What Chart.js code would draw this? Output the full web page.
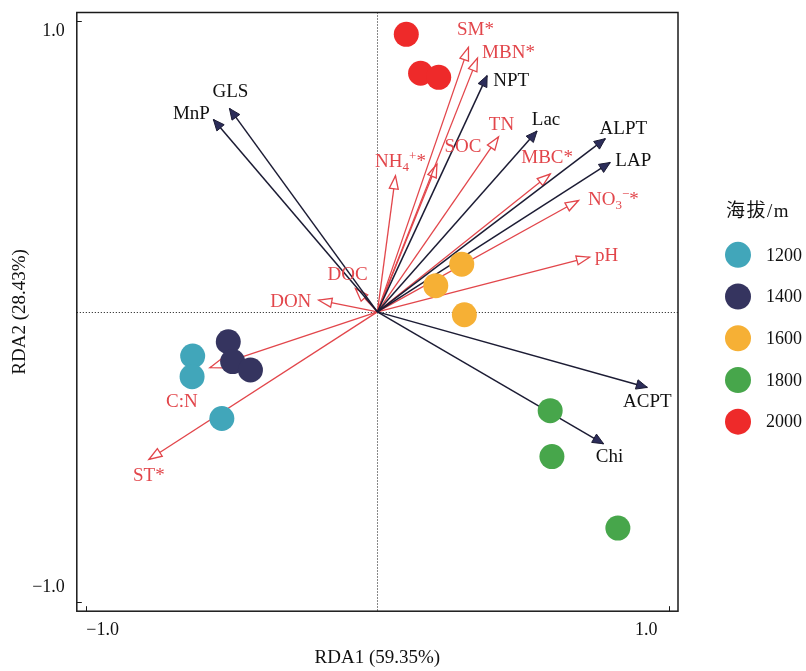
<!DOCTYPE html>
<html>
<head>
<meta charset="utf-8">
<script src="https://cdn.jsdelivr.net/npm/chart.js@4.4.0/dist/chart.umd.min.js"></script>
<style>
html,body{margin:0;padding:0;background:#fff}
#wrap{width:806px;height:671px}
</style>
</head>
<body>
<div id="wrap"><canvas id="rda" width="806" height="671"></canvas></div>
<script>
// --- dados: scores das amostras (RDA1, RDA2) por altitude ---
const elevations = ['1200', '1400', '1600', '1800', '2000'];
const elevColors = ['#41A6BA', '#35345F', '#F6B035', '#47A64B', '#EE2A2A'];
const site1200 = [[-0.633, -0.152], [-0.635, -0.223], [-0.533, -0.367]];
const site1400 = [[-0.511, -0.103], [-0.496, -0.171], [-0.435, -0.200]];
const site1600 = [[0.289, 0.164], [0.200, 0.090], [0.298, -0.010]];
const site1800 = [[0.592, -0.340], [0.598, -0.498], [0.824, -0.744]];
const site2000 = [[0.099, 0.955], [0.148, 0.821], [0.210, 0.807]];
const siteScores = [site1200, site1400, site1600, site1800, site2000];

// variáveis ambientais (setas vermelhas, ponta aberta)
const envNames = ['SM*', 'MBN*', 'TN', 'SOC', 'NH₄⁺*', 'MBC*', 'NO₃⁻*', 'pH', 'DOC', 'DON', 'C:N', 'ST*'];
const envX = [0.312, 0.343, 0.415, 0.204, 0.062, 0.592, 0.689, 0.727, -0.075, -0.201, -0.574, -0.783];
const envY = [0.910, 0.873, 0.602, 0.508, 0.468, 0.474, 0.383, 0.188, 0.080, 0.040, -0.192, -0.508];

// enzimas (setas escuras, ponta cheia)
const enzNames = ['MnP', 'GLS', 'NPT', 'Lac', 'ALPT', 'LAP', 'ACPT', 'Chi'];
const enzX = [-0.562, -0.507, 0.376, 0.547, 0.781, 0.798, 0.925, 0.775];
const enzY = [0.662, 0.700, 0.813, 0.622, 0.596, 0.514, -0.260, -0.454];

const xTicks = [-1, 1];
const yTicks = [-1, 1];
const xTitle = 'RDA1 (59.35%)';
const yTitle = 'RDA2 (28.43%)';
const legendTitle = '海拔/m';

// --- estilo ---
const SERIF = '"Liberation Serif", "Times New Roman", "Noto Sans CJK SC", serif';
const RED = '#E2464B';
const DARK = '#1C1C34';
const NAVY = '#2C2D5A';
const INK = '#1a1a1a';
// deslocamento dos rótulos (px) em relação à ponta da seta
const envNudge = [[7,-19],[31,-6],[3,-13],[26,-18],[5,-15],[-3,-17],[35,-2],[17,-2],[-8,-15],[-28,1],[-28,33],[0,15]];
const enzNudge = [[-22,-7],[1,-18],[24,4],[9,-12],[18,-11],[23,-3],[0,13],[6,12]];
// rótulos dos ticks deslocados para dentro, como no original (px)
const xTickLabelShift = [17, -23];
const yTickLabelShift = [-15, 10];

function fmtTick(v){ return (v < 0 ? '\u2212' : '') + Math.abs(v).toFixed(1); }

function richParts(s){
	const sub = {'₀':'0','₁':'1','₂':'2','₃':'3','₄':'4','₅':'5','₆':'6','₇':'7','₈':'8','₉':'9'};
	const sup = {'⁺':'+','⁻':'\u2212'};
	const parts = [];
	for (const ch of s){
		let k = 'n', t = ch;
		if (sub[ch]){ k = 'sub'; t = sub[ch]; } else if (sup[ch]){ k = 'sup'; t = sup[ch]; }
		const last = parts[parts.length-1];
		if (last && last.k === k) last.t += t; else parts.push({k, t});
	}
	return parts;
}
function drawRich(ctx, s, cx, cy, size, color){
	const parts = richParts(s);
	const small = Math.round(size*0.68);
	let w = 0;
	for (const p of parts){ ctx.font = (p.k==='n' ? size : small)+'px '+SERIF; p.w = ctx.measureText(p.t).width; w += p.w; }
	let x = cx - w/2;
	const base = cy + size*0.33;
	ctx.textAlign = 'left'; ctx.textBaseline = 'alphabetic'; ctx.fillStyle = color;
	for (const p of parts){
		ctx.font = (p.k==='n' ? size : small)+'px '+SERIF;
		const dy = p.k==='sub' ? size*0.22 : (p.k==='sup' ? -size*0.36 : 0);
		ctx.fillText(p.t, x, base+dy);
		x += p.w;
	}
}
function drawHead(ctx, x0, y0, x1, y1, len, half, fill, stroke, lw){
	const a = Math.atan2(y1-y0, x1-x0);
	const bx = x1 - len*Math.cos(a), by = y1 - len*Math.sin(a);
	const nx = -Math.sin(a)*half, ny = Math.cos(a)*half;
	ctx.beginPath();
	ctx.moveTo(x1, y1); ctx.lineTo(bx+nx, by+ny); ctx.lineTo(bx-nx, by-ny); ctx.closePath();
	ctx.fillStyle = fill; ctx.fill();
	ctx.lineJoin = 'miter'; ctx.lineWidth = lw; ctx.strokeStyle = stroke; ctx.stroke();
}

// --- datasets ---
const datasets = [];
siteScores.forEach((pts, i)=>{
	datasets.push({
		label: elevations[i], isSite: true, order: 0,
		data: pts.map(p=>({x:p[0], y:p[1]})),
		backgroundColor: elevColors[i], borderWidth: 0,
		pointRadius: 12.5, pointHoverRadius: 12.5
	});
});
envNames.forEach((n, i)=>{
	datasets.push({
		type: 'line', label: n, arrow: 'open', nudge: envNudge[i], order: 2,
		data: [{x:0, y:0}, {x:envX[i], y:envY[i]}],
		borderColor: RED, borderWidth: 1.3, pointRadius: 0, fill: false, showLine: true
	});
});
enzNames.forEach((n, i)=>{
	datasets.push({
		type: 'line', label: n, arrow: 'solid', nudge: enzNudge[i], order: 1,
		data: [{x:0, y:0}, {x:enzX[i], y:enzY[i]}],
		borderColor: DARK, borderWidth: 1.5, pointRadius: 0, fill: false, showLine: true
	});
});

const rdaDecor = {
	id: 'rdaDecor',
	beforeDatasetsDraw(chart){
		const {ctx, chartArea:a, scales:{x, y}} = chart;
		ctx.save();
		ctx.strokeStyle = '#111'; ctx.lineWidth = 1; ctx.setLineDash([1, 2]);
		const x0 = Math.round(x.getPixelForValue(0)) + 0.5;
		const y0 = Math.round(y.getPixelForValue(0)) + 0.5;
		ctx.beginPath();
		ctx.moveTo(x0, a.top); ctx.lineTo(x0, a.bottom);
		ctx.moveTo(a.left, y0); ctx.lineTo(a.right, y0);
		ctx.stroke();
		ctx.restore();
	},
	afterDatasetDraw(chart, args){
		const ds = chart.data.datasets[args.index];
		if (!ds.arrow) return;
		const p0 = args.meta.data[0], p1 = args.meta.data[1];
		const ctx = chart.ctx;
		ctx.save();
		if (ds.arrow === 'open') drawHead(ctx, p0.x, p0.y, p1.x, p1.y, 13, 4.5, '#fff', RED, 1.3);
		else drawHead(ctx, p0.x, p0.y, p1.x, p1.y, 11, 4.8, NAVY, DARK, 1);
		ctx.restore();
	},
	afterDatasetsDraw(chart){
		const {ctx, chartArea:a, scales:{x, y}} = chart;
		ctx.save();
		// rótulos das setas
		chart.data.datasets.forEach((ds, i)=>{
			if (!ds.arrow) return;
			const p = chart.getDatasetMeta(i).data[1];
			drawRich(ctx, ds.label, p.x + ds.nudge[0], p.y + ds.nudge[1], 19, ds.arrow==='open' ? RED : '#111');
		});
		// moldura + ticks internos
		ctx.strokeStyle = INK; ctx.lineWidth = 1.5;
		ctx.strokeRect(a.left, a.top, a.right-a.left, a.bottom-a.top);
		ctx.lineWidth = 1;
		ctx.beginPath();
		for (const v of xTicks){ const px = Math.round(x.getPixelForValue(v))+0.5; ctx.moveTo(px, a.bottom); ctx.lineTo(px, a.bottom-5); }
		for (const v of yTicks){ const py = Math.round(y.getPixelForValue(v))+0.5; ctx.moveTo(a.left, py); ctx.lineTo(a.left+5, py); }
		ctx.stroke();
		// rótulos dos ticks
		ctx.fillStyle = '#111'; ctx.font = '18px ' + SERIF; ctx.textBaseline = 'middle';
		ctx.textAlign = 'center';
		xTicks.forEach((v, i)=> ctx.fillText(fmtTick(v), x.getPixelForValue(v) + xTickLabelShift[i], a.bottom + 19));
		ctx.textAlign = 'right';
		yTicks.forEach((v, i)=> ctx.fillText(fmtTick(v), a.left - 12, y.getPixelForValue(v) + yTickLabelShift[i]));
		ctx.restore();
	},
	afterDraw(chart){
		// legenda (altitude)
		const {ctx, chartArea:a} = chart;
		const mid = (a.top + a.bottom)/2;
		ctx.save();
		ctx.fillStyle = '#111'; ctx.textAlign = 'left'; ctx.textBaseline = 'middle';
		ctx.font = '19px ' + SERIF;
		try { ctx.letterSpacing = '1.5px'; } catch {}
		ctx.fillText(legendTitle, a.right + 48, mid - 100);
		try { ctx.letterSpacing = '0px'; } catch {}
		const sites = chart.data.datasets.filter(d=>d.isSite);
		sites.forEach((d, i)=>{
			const cy = mid - 57 + i*41.7;
			ctx.beginPath(); ctx.arc(a.right + 60, cy, 13, 0, Math.PI*2);
			ctx.fillStyle = d.backgroundColor; ctx.fill();
			ctx.fillStyle = '#111'; ctx.font = '18px ' + SERIF;
			ctx.fillText(d.label, a.right + 88, cy + 1);
		});
		ctx.restore();
	}
};

new Chart(document.getElementById('rda').getContext('2d'), {
	type: 'scatter',
	data: { datasets },
	options: {
		responsive: false, animation: false,
		events: [],
		layout: { padding: { top: 8, right: 128, bottom: 2, left: 0 } },
		plugins: { legend: { display: false }, tooltip: { enabled: false } },
		scales: {
			x: {
				min: -1.03, max: 1.03,
				grid: { display: false, drawTicks: false },
				border: { display: false },
				ticks: { display: false },
				title: { display: true, text: xTitle, color: '#111', padding: { top: 35, bottom: 0 }, font: { family: SERIF, size: 19 } }
			},
			y: {
				min: -1.03, max: 1.03,
				grid: { display: false, drawTicks: false },
				border: { display: false },
				ticks: { display: false },
				title: { display: true, text: yTitle, color: '#111', padding: { top: 9, bottom: 45 }, font: { family: SERIF, size: 19 } }
			}
		}
	},
	plugins: [rdaDecor]
});
</script>
</body>
</html>
